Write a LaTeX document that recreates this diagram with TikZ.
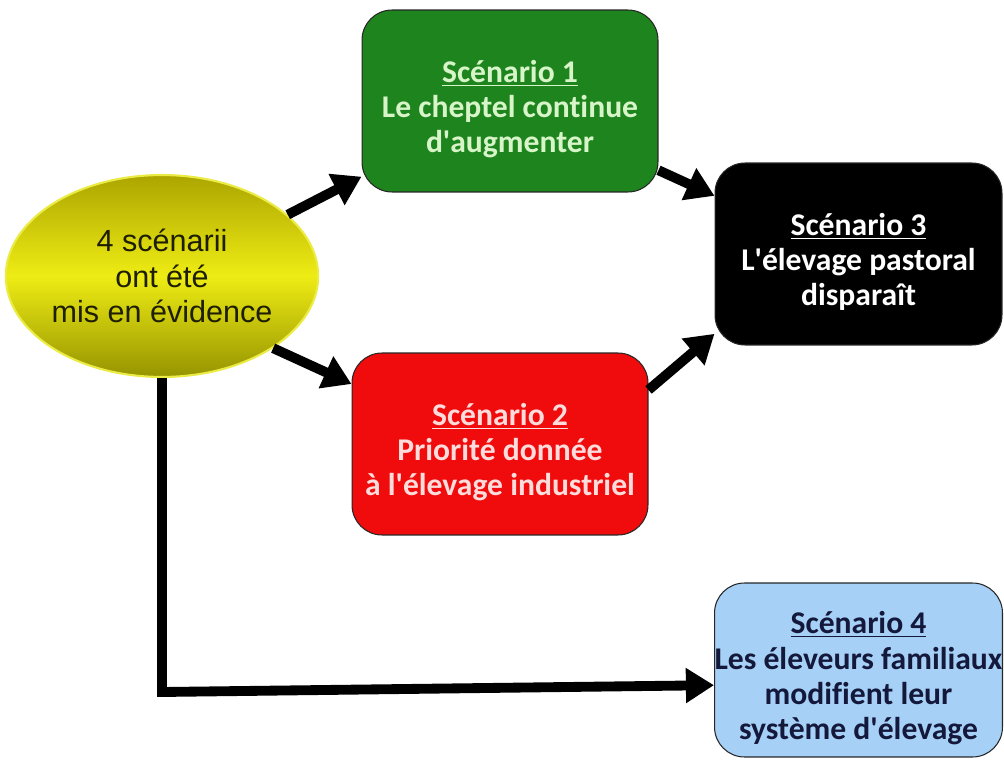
\documentclass[tikz,border=0pt]{standalone}
\usepackage{fontspec}
\setmainfont{Carlito}[Ligatures={NoCommon}]
\newfontfamily\arialfont{Liberation Sans}
\usetikzlibrary{arrows.meta}
\usetikzlibrary{shapes.geometric}

\definecolor{scgreen}{RGB}{30,132,30}
\definecolor{scgreentext}{RGB}{215,245,200}
\definecolor{scred}{RGB}{240,12,12}
\definecolor{scredtext}{RGB}{255,220,220}
\definecolor{scblue}{RGB}{166,208,246}
\definecolor{scbluetext}{RGB}{20,25,60}
\definecolor{oliveA}{RGB}{172,165,0}
\definecolor{oliveB}{RGB}{238,236,20}
\definecolor{oliveC}{RGB}{150,148,0}

% pushes the text of a box a little down
\newcommand{\topgap}{\rule{0pt}{22pt}}
\newcommand{\apos}{\textquotesingle}

\tikzset{
  scenbox/.style={draw=black!85, line width=0.6pt, rounded corners=0.6cm,
    align=center, inner sep=0pt, minimum width=5.92cm, minimum height=3.64cm,
    font=\bfseries\fontsize{18}{20}\selectfont},
  flow/.style={line width=5.6pt, -{Triangle[length=16pt,width=19pt]}},
}

\begin{document}
\begin{tikzpicture}[x=0.02cm,y=-0.02cm]
\useasboundingbox (0,0) rectangle (1004,760);
% starting point
\node[ellipse, minimum width=6.16cm, minimum height=4.04cm, inner sep=0pt,
  top color=oliveA, bottom color=oliveC, middle color=oliveB,
  draw={rgb,255:red,235;green,235;blue,70}, line width=1.2pt,
  align=center, text={rgb,255:red,30;green,30;blue,0},
  font=\arialfont\fontsize{17.4}{20.4}\selectfont] (ell) at (162,276)
  {4 scénarii\\ont été\\mis en évidence};
% scenarios
\node[scenbox, fill=scgreen, text=scgreentext] (sc1) at (510,101)
  {\topgap\underline{Scénario 1}\\Le cheptel continue\\d\apos augmenter};
\node[scenbox, fill=scred, text=scredtext] (sc2) at (500,444)
  {\topgap\underline{Scénario 2}\\Priorité donnée\\à l\apos élevage industriel};
\node[scenbox, fill=black, text=white, minimum width=5.74cm] (sc3) at (858.5,254)
  {\topgap\underline{Scénario 3}\\L\apos élevage pastoral\\disparaît};
\node[scenbox, fill=scblue, text=scbluetext, minimum width=5.74cm, minimum height=3.48cm] (sc4) at (858.5,670)
  {\topgap\underline{Scénario 4}\\Les éleveurs familiaux\\modifient leur\\système d\apos élevage};
% arrows
\draw[flow] (ell.26) -- (sc1.207);
\draw[flow] (ell.-33) -- (sc2.158);
\draw[flow] (sc1.-25) -- (sc3.158);
\draw[flow] (sc2.20) -- (sc3.209);
\coordinate (knee) at (162,692);
\draw[flow] (ell.south) -- (knee) -- (sc4.186);
\end{tikzpicture}
\end{document}
